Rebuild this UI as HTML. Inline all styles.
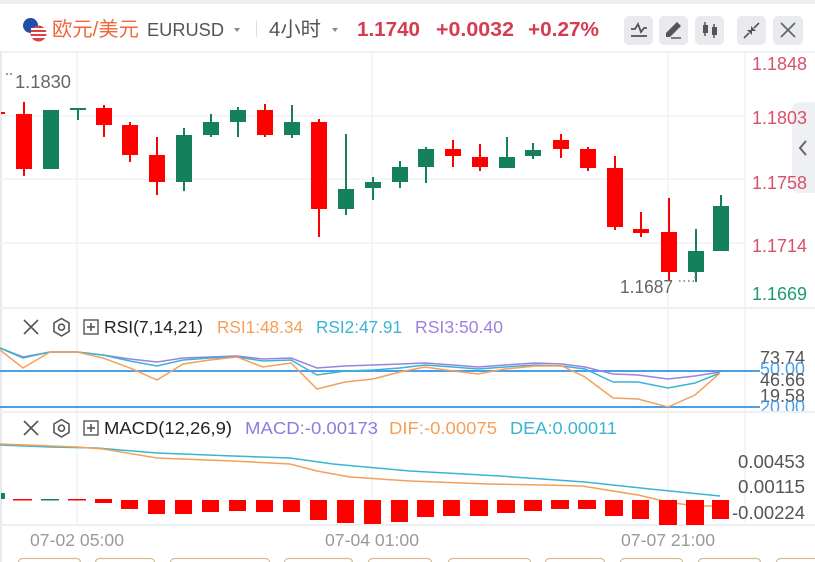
<!DOCTYPE html>
<html><head><meta charset="utf-8"><style>
html,body{margin:0;padding:0;background:#fff;width:815px;height:562px;overflow:hidden}
svg{display:block}
text{font-family:"Liberation Sans","Noto Sans CJK SC",sans-serif}
</style></head><body>
<svg width="815" height="562" viewBox="0 0 815 562" xmlns="http://www.w3.org/2000/svg">
<defs>
<clipPath id="rsiClip"><rect x="0" y="309" width="815" height="102"/></clipPath>
<clipPath id="macdClip"><rect x="0" y="413" width="815" height="112"/></clipPath>
</defs>
<rect x="0" y="0" width="815" height="562" fill="#fff"/>
<rect x="0" y="0" width="815" height="4" fill="#eceef2"/>
<!-- Header -->
<circle cx="30.5" cy="25.5" r="7.5" fill="#1f4fa8"/>
<circle cx="38.5" cy="33.5" r="8" fill="#e04040"/>
<rect x="31" y="28" width="15" height="2" fill="#fff"/><rect x="31" y="32" width="16" height="2" fill="#fff"/><rect x="31" y="36" width="15" height="2" fill="#fff"/>
<text x="52" y="36" font-size="20" fill="#f0673c" font-family="'Liberation Sans','Noto Sans CJK SC',sans-serif" textLength="87" lengthAdjust="spacingAndGlyphs">欧元/美元</text>
<text x="147" y="36" font-size="18" fill="#555" textLength="77" lengthAdjust="spacingAndGlyphs">EURUSD</text>
<path d="M234 28 L240 28 L237 32 Z" fill="#888"/>
<line x1="256.5" y1="20" x2="256.5" y2="37" stroke="#dcdfe4" stroke-width="1"/>
<text x="269" y="36" font-size="20" fill="#555" textLength="52" lengthAdjust="spacingAndGlyphs">4小时</text>
<path d="M332 28 L338 28 L335 32 Z" fill="#888"/>
<text x="357" y="36" font-size="20" font-weight="bold" fill="#d63c50" textLength="63" lengthAdjust="spacingAndGlyphs">1.1740</text>
<text x="436" y="36" font-size="20" font-weight="bold" fill="#d63c50" textLength="78" lengthAdjust="spacingAndGlyphs">+0.0032</text>
<text x="528" y="36" font-size="20" font-weight="bold" fill="#d63c50" textLength="71" lengthAdjust="spacingAndGlyphs">+0.27%</text>
<!-- header buttons -->
<rect x="624" y="16" width="29" height="29" rx="5" fill="#e8eaee"/>
<rect x="659" y="16" width="29" height="29" rx="5" fill="#e8eaee"/>
<rect x="695" y="16" width="29" height="29" rx="5" fill="#e8eaee"/>
<rect x="737" y="16" width="29" height="29" rx="5" fill="#e8eaee"/>
<rect x="773" y="16" width="30" height="29" rx="5" fill="#e8eaee"/>
<polyline points="631,29 635,29 638,24 641,32 644,28 647,28" fill="none" stroke="#555" stroke-width="1.8"/>
<line x1="631" y1="36" x2="647" y2="36" stroke="#555" stroke-width="1.8"/>
<polygon points="666,37 666,33 677,22 681,26 670,37" fill="#555"/>
<line x1="671" y1="38" x2="681" y2="38" stroke="#555" stroke-width="1.5"/>
<line x1="705" y1="22" x2="705" y2="36" stroke="#555" stroke-width="1.5"/><rect x="703" y="25" width="5" height="8" fill="#555"/>
<line x1="714" y1="24" x2="714" y2="38" stroke="#555" stroke-width="1.5"/><rect x="712" y="27" width="5" height="8" fill="#555"/>
<line x1="744" y1="38" x2="749" y2="33" stroke="#555" stroke-width="1.6"/><polygon points="747,30 752,30 752,35" fill="#555"/>
<line x1="759" y1="23" x2="754" y2="28" stroke="#555" stroke-width="1.6"/><polygon points="751,26 751,31 756,31" fill="#555"/>
<line x1="781" y1="23" x2="795" y2="37" stroke="#666" stroke-width="1.8"/><line x1="795" y1="23" x2="781" y2="37" stroke="#666" stroke-width="1.8"/>
<!-- chart frame -->
<rect x="0" y="51" width="815" height="2" fill="#eef0f3"/>
<rect x="0" y="52" width="2" height="510" fill="#e6e9ee"/>
<!-- gridlines -->
<g stroke="#f0f2f5" stroke-width="1.5">
<line x1="0" y1="116" x2="745" y2="116"/><line x1="0" y1="179" x2="745" y2="179"/><line x1="0" y1="243" x2="745" y2="243"/>
<line x1="77" y1="53" x2="77" y2="525"/><line x1="372" y1="53" x2="372" y2="525"/><line x1="668" y1="53" x2="668" y2="525"/>
<line x1="745" y1="53" x2="745" y2="525"/>
</g>
<!-- separators -->
<rect x="0" y="307" width="815" height="2" fill="#eceff3"/>
<rect x="0" y="411" width="815" height="2" fill="#eceff3"/>
<rect x="0" y="524" width="815" height="2" fill="#eceff3"/>
<!-- right tab (behind labels) -->
<path d="M815 102 L800 102 Q792 102 792 110 L792 185 Q792 193 800 193 L815 193 Z" fill="#eef0f3"/>
<polyline points="806,141 800,148 806,155" fill="none" stroke="#666" stroke-width="2"/>
<!-- candles -->
<g id="candles">
<g fill="#ff0000" stroke="#ff0000">
<line x1="24" y1="102" x2="24" y2="176" stroke-width="2"/><rect x="16" y="114" width="16" height="55" stroke="none"/>
<line x1="104" y1="105" x2="104" y2="137" stroke-width="2"/><rect x="96" y="108" width="16" height="17" stroke="none"/>
<line x1="130" y1="122" x2="130" y2="162" stroke-width="2"/><rect x="122" y="125" width="16" height="30" stroke="none"/>
<line x1="157" y1="137" x2="157" y2="195" stroke-width="2"/><rect x="149" y="155" width="16" height="27" stroke="none"/>
<line x1="265" y1="104" x2="265" y2="137" stroke-width="2"/><rect x="257" y="110" width="16" height="25" stroke="none"/>
<line x1="319" y1="119" x2="319" y2="237" stroke-width="2"/><rect x="311" y="122" width="16" height="87" stroke="none"/>
<line x1="453" y1="140" x2="453" y2="167" stroke-width="2"/><rect x="445" y="149" width="16" height="7" stroke="none"/>
<line x1="480" y1="144" x2="480" y2="171" stroke-width="2"/><rect x="472" y="157" width="16" height="10" stroke="none"/>
<line x1="561" y1="134" x2="561" y2="158" stroke-width="2"/><rect x="553" y="140" width="16" height="9" stroke="none"/>
<line x1="588" y1="147" x2="588" y2="171" stroke-width="2"/><rect x="580" y="149" width="16" height="19" stroke="none"/>
<line x1="615" y1="156" x2="615" y2="230" stroke-width="2"/><rect x="607" y="168" width="16" height="59" stroke="none"/>
<line x1="641" y1="212" x2="641" y2="237" stroke-width="2"/><rect x="633" y="229" width="16" height="4" stroke="none"/>
<line x1="669" y1="198" x2="669" y2="280" stroke-width="2"/><rect x="661" y="232" width="16" height="40" stroke="none"/>
</g>
<g fill="#14805c" stroke="#14805c">
<rect x="43" y="110" width="16" height="59" stroke="none"/>
<line x1="78" y1="109" x2="78" y2="120" stroke-width="2"/><rect x="70" y="108" width="16" height="2" stroke="none"/>
<line x1="184" y1="128" x2="184" y2="191" stroke-width="2"/><rect x="176" y="135" width="16" height="47" stroke="none"/>
<line x1="211" y1="114" x2="211" y2="137" stroke-width="2"/><rect x="203" y="122" width="16" height="13" stroke="none"/>
<line x1="238" y1="107" x2="238" y2="137" stroke-width="2"/><rect x="230" y="110" width="16" height="12" stroke="none"/>
<line x1="292" y1="105" x2="292" y2="138" stroke-width="2"/><rect x="284" y="122" width="16" height="13" stroke="none"/>
<line x1="346" y1="134" x2="346" y2="215" stroke-width="2"/><rect x="338" y="189" width="16" height="20" stroke="none"/>
<line x1="373" y1="177" x2="373" y2="200" stroke-width="2"/><rect x="365" y="182" width="16" height="6" stroke="none"/>
<line x1="400" y1="161" x2="400" y2="188" stroke-width="2"/><rect x="392" y="167" width="16" height="15" stroke="none"/>
<line x1="426" y1="147" x2="426" y2="183" stroke-width="2"/><rect x="418" y="149" width="16" height="18" stroke="none"/>
<line x1="507" y1="137" x2="507" y2="168" stroke-width="2"/><rect x="499" y="157" width="16" height="11" stroke="none"/>
<line x1="533" y1="143" x2="533" y2="159" stroke-width="2"/><rect x="525" y="150" width="16" height="6" stroke="none"/>
<line x1="696" y1="229" x2="696" y2="282" stroke-width="2"/><rect x="688" y="251" width="16" height="21" stroke="none"/>
<line x1="721" y1="195" x2="721" y2="251" stroke-width="2"/><rect x="713" y="206" width="16" height="45" stroke="none"/>
</g>
</g>
<rect x="1" y="112" width="4" height="2" fill="#ff0000"/>
<!-- high/low labels -->
<circle cx="7" cy="74" r="1" fill="#777"/><circle cx="11" cy="74" r="1" fill="#777"/>
<text x="15" y="88" font-size="18" fill="#666" textLength="56" lengthAdjust="spacingAndGlyphs">1.1830</text>
<text x="620" y="293" font-size="18" fill="#666" textLength="53" lengthAdjust="spacingAndGlyphs">1.1687</text>
<line x1="679" y1="281" x2="695" y2="281" stroke="#777" stroke-width="1.5" stroke-dasharray="1.5,3"/>
<line x1="695" y1="272" x2="695" y2="281" stroke="#777" stroke-width="1.2" stroke-dasharray="1.5,3"/>
<!-- price axis -->
<text x="752" y="70" font-size="18" fill="#d9506a" textLength="55" lengthAdjust="spacingAndGlyphs">1.1848</text>
<text x="752" y="124" font-size="18" fill="#d9506a" textLength="55" lengthAdjust="spacingAndGlyphs">1.1803</text>
<text x="752" y="189" font-size="18" fill="#d9506a" textLength="55" lengthAdjust="spacingAndGlyphs">1.1758</text>
<text x="752" y="252" font-size="18" fill="#d9506a" textLength="55" lengthAdjust="spacingAndGlyphs">1.1714</text>
<text x="752" y="300" font-size="18" fill="#1d9a72" textLength="55" lengthAdjust="spacingAndGlyphs">1.1669</text>
<!-- RSI panel -->
<g stroke="#555" stroke-width="1.6" fill="none">
<line x1="24" y1="320" x2="38" y2="334"/><line x1="38" y1="320" x2="24" y2="334"/>
<polygon points="61.5,318.5 69,323 69,331.5 61.5,336 54,331.5 54,323"/>
<circle cx="61.5" cy="327.2" r="3"/>
<rect x="84" y="320" width="14" height="14" stroke-width="1.4"/>
<line x1="91" y1="323" x2="91" y2="331"/><line x1="87" y1="327" x2="95" y2="327"/>
</g>
<text x="104" y="333" font-size="17.5" fill="#222" textLength="99" lengthAdjust="spacingAndGlyphs">RSI(7,14,21)</text>
<text x="217" y="333" font-size="17.5" fill="#f5a05a" textLength="86" lengthAdjust="spacingAndGlyphs">RSI1:48.34</text>
<text x="316" y="333" font-size="17.5" fill="#3ab4d2" textLength="86" lengthAdjust="spacingAndGlyphs">RSI2:47.91</text>
<text x="415" y="333" font-size="17.5" fill="#9a82e0" textLength="88" lengthAdjust="spacingAndGlyphs">RSI3:50.40</text>
<g clip-path="url(#rsiClip)">
<line x1="0" y1="371" x2="760" y2="371" stroke="#4a9fe8" stroke-width="2"/>
<line x1="0" y1="407" x2="760" y2="407" stroke="#4a9fe8" stroke-width="2"/>
<polyline fill="none" stroke="#9a82e0" stroke-width="1.5" points="0,348 23,357 50,352 77,352 103,355 130,359 157,362 183,358 210,357 237,356 263,359 291,358 317,368 345,366 373,365 400,364 425,363 453,365 478,367 505,365 535,363 562,364 585,367 613,374 638,375 668,379 695,376 720,372"/>
<polyline fill="none" stroke="#3ab4d2" stroke-width="1.5" points="0,348 23,358 50,352 77,352 103,355 130,361 157,366 183,360 210,358 237,357 263,361 291,360 317,375 345,371 373,370 400,368 425,365 453,367 478,369 505,367 535,365 562,366 585,369 613,382 638,382 668,388 695,383 720,373"/>
<polyline fill="none" stroke="#f5a05a" stroke-width="1.5" points="0,350 23,368 50,352 77,352 103,358 130,368 157,380 183,364 210,360 237,357 263,367 291,363 317,389 345,382 373,379 400,372 425,367 453,371 478,374 505,369 535,366 562,366 585,377 613,398 638,399 668,407 695,395 720,373"/>
<text x="760" y="364" font-size="18" fill="#555" textLength="45" lengthAdjust="spacingAndGlyphs">73.74</text>
<text x="760" y="375" font-size="18" fill="#4a9fe8" textLength="45" lengthAdjust="spacingAndGlyphs">50.00</text>
<text x="760" y="386" font-size="18" fill="#555" textLength="45" lengthAdjust="spacingAndGlyphs">46.66</text>
<text x="760" y="402" font-size="18" fill="#555" textLength="45" lengthAdjust="spacingAndGlyphs">19.58</text>
<text x="760" y="413" font-size="18" fill="#4a9fe8" textLength="45" lengthAdjust="spacingAndGlyphs">20.00</text>
</g>
<!-- MACD panel -->
<g stroke="#555" stroke-width="1.6" fill="none">
<line x1="24" y1="421" x2="38" y2="435"/><line x1="38" y1="421" x2="24" y2="435"/>
<polygon points="61.5,419.5 69,424 69,432.5 61.5,437 54,432.5 54,424"/>
<circle cx="61.5" cy="428.2" r="3"/>
<rect x="84" y="421" width="14" height="14" stroke-width="1.4"/>
<line x1="91" y1="424" x2="91" y2="432"/><line x1="87" y1="428" x2="95" y2="428"/>
</g>
<text x="104" y="434" font-size="17.5" fill="#222" textLength="128" lengthAdjust="spacingAndGlyphs">MACD(12,26,9)</text>
<text x="245" y="434" font-size="17.5" fill="#8e7cdc" textLength="133" lengthAdjust="spacingAndGlyphs">MACD:-0.00173</text>
<text x="389" y="434" font-size="17.5" fill="#f5a05a" textLength="108" lengthAdjust="spacingAndGlyphs">DIF:-0.00075</text>
<text x="510" y="434" font-size="17.5" fill="#3ab4d2" textLength="107" lengthAdjust="spacingAndGlyphs">DEA:0.00011</text>
<g clip-path="url(#macdClip)">
<polyline fill="none" stroke="#3ab4d2" stroke-width="1.5" points="0,445 50,447 97,448 157,453 233,456 290,458 333,464 410,471 500,476 585,482 650,489 720,496"/>
<polyline fill="none" stroke="#f5a05a" stroke-width="1.5" points="0,444 77,447 103,449 157,458 233,461 290,464 317,471 350,477 410,481 488,484 545,485 582,486 638,495 668,502 695,506 720,506"/>
<rect x="1" y="493" width="4" height="6" fill="#14805c"/>
<rect x="13" y="499" width="19" height="1.5" fill="#ff0000"/>
<rect x="41" y="499" width="18" height="1.5" fill="#14805c"/>
<rect x="68" y="499" width="18" height="1.5" fill="#ff0000"/>
<g fill="#ff0000">
<rect x="95" y="499" width="17" height="4"/>
<rect x="121" y="500" width="17" height="9"/>
<rect x="148" y="500" width="17" height="14"/>
<rect x="175" y="500" width="17" height="14"/>
<rect x="202" y="500" width="17" height="12"/>
<rect x="229" y="500" width="17" height="11"/>
<rect x="256" y="500" width="17" height="12"/>
<rect x="283" y="500" width="17" height="12"/>
<rect x="310" y="500" width="17" height="20"/>
<rect x="337" y="500" width="17" height="23"/>
<rect x="364" y="500" width="17" height="24"/>
<rect x="391" y="500" width="17" height="22"/>
<rect x="417" y="500" width="17" height="17"/>
<rect x="443" y="500" width="17" height="16"/>
<rect x="470" y="500" width="18" height="16"/>
<rect x="497" y="500" width="18" height="13"/>
<rect x="524" y="500" width="18" height="11"/>
<rect x="551" y="500" width="18" height="9"/>
<rect x="578" y="500" width="18" height="9"/>
<rect x="605" y="500" width="18" height="16"/>
<rect x="632" y="500" width="17" height="19"/>
<rect x="659" y="500" width="18" height="25"/>
<rect x="686" y="500" width="18" height="25"/>
<rect x="712" y="500" width="17" height="19"/>
</g>
<text x="738" y="468" font-size="18" fill="#555" textLength="67" lengthAdjust="spacingAndGlyphs">0.00453</text>
<text x="738" y="493" font-size="18" fill="#555" textLength="67" lengthAdjust="spacingAndGlyphs">0.00115</text>
<text x="732" y="519" font-size="18" fill="#555" textLength="73" lengthAdjust="spacingAndGlyphs">-0.00224</text>
</g>
<!-- x axis -->
<text x="77" y="546" font-size="17.5" fill="#9a9a9a" text-anchor="middle" textLength="94" lengthAdjust="spacingAndGlyphs">07-02 05:00</text>
<text x="372" y="546" font-size="17.5" fill="#9a9a9a" text-anchor="middle" textLength="94" lengthAdjust="spacingAndGlyphs">07-04 01:00</text>
<text x="668" y="546" font-size="17.5" fill="#9a9a9a" text-anchor="middle" textLength="94" lengthAdjust="spacingAndGlyphs">07-07 21:00</text>
<!-- bottom buttons -->
<g fill="#fff" stroke="#d6bb8e" stroke-width="1.2">
<rect x="18.5" y="558.5" width="62" height="12" rx="4"/>
<rect x="95.5" y="558.5" width="59" height="12" rx="4"/>
<rect x="170.5" y="558.5" width="99" height="12" rx="4"/>
<rect x="284.5" y="558.5" width="68" height="12" rx="4"/>
<rect x="368.5" y="558.5" width="63" height="12" rx="4"/>
<rect x="448.5" y="558.5" width="82" height="12" rx="4"/>
<rect x="545.5" y="558.5" width="59" height="12" rx="4"/>
<rect x="620.5" y="558.5" width="62" height="12" rx="4"/>
<rect x="698.5" y="558.5" width="62" height="12" rx="4"/>
<rect x="776.5" y="558.5" width="60" height="12" rx="4"/>
</g>
</svg>
</body></html>
